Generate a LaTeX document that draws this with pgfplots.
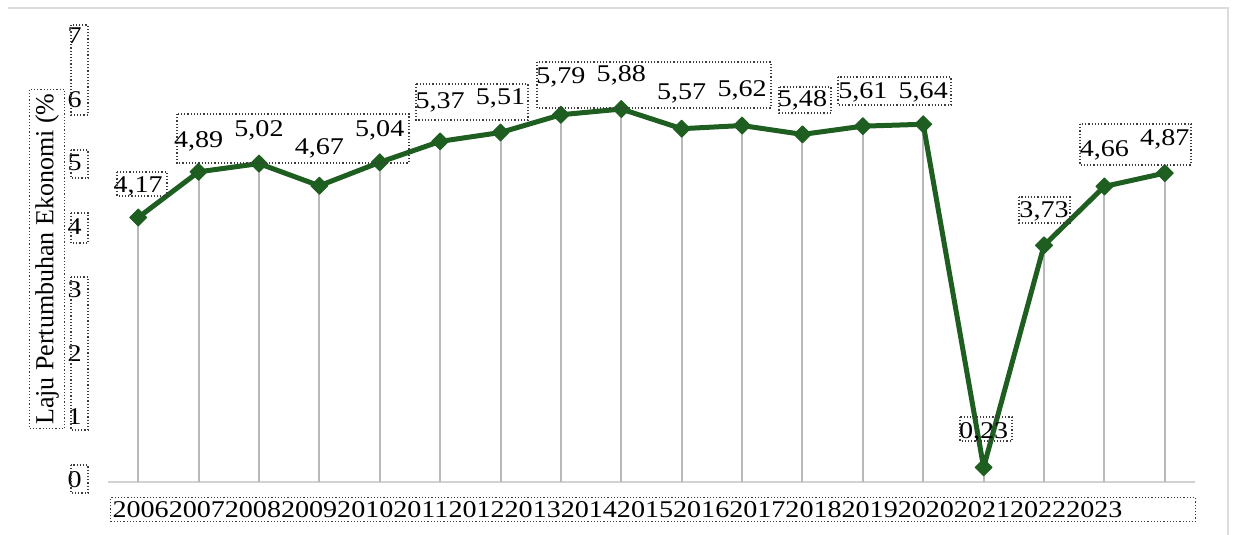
\documentclass[border=0pt]{standalone}
\usepackage{pgfplots}
\pgfplotsset{compat=1.18}
\usepackage{pgfplotstable}
\usepackage{fontspec}
\setmainfont{Liberation Serif}[FakeStretch=1.17]
\newfontfamily\ylfont{Liberation Serif}
\definecolor{lineg}{RGB}{30,94,32}
\definecolor{dropg}{RGB}{185,185,185}
\definecolor{axg}{RGB}{210,210,210}
\definecolor{frameg}{RGB}{220,220,220}
\definecolor{boxc}{RGB}{60,60,60}

\pgfplotstableread{
x y lbl dy
0 4.17 4,17 15.5
1 4.89 4,89 15
2 5.02 5,02 16.5
3 4.67 4,67 18.5
4 5.04 5,04 16
5 5.37 5,37 19.5
6 5.51 5,51 17
7 5.79 5,79 18.5
8 5.88 5,88 17
9 5.57 5,57 17.5
10 5.62 5,62 17.5
11 5.48 5,48 17
12 5.61 5,61 17
13 5.64 5,64 16
14 0.23 0,23 17.5
15 3.73 3,73 17
16 4.66 4,66 18
17 4.87 4,87 17
}\datatable

\begin{document}
\begin{tikzpicture}
\useasboundingbox (-54pt,-26.5pt) rectangle (562.5pt,241pt);
\draw[frameg, line width=1pt] (-50pt,237pt) -- (560pt,237pt) -- (560pt,-27pt);
\begin{axis}[
  at={(0pt,0pt)}, anchor=south west,
  scale only axis, width=543.5pt, height=222pt,
  xmin=-0.5, xmax=17.5, ymin=0, ymax=7,
  clip=false,
  axis x line=bottom, axis y line=left,
  x axis line style={-, draw=axg, line width=1pt},
  y axis line style={draw=none},
  xtick=\empty,
  ytick={0,1,2,3,4,5,6,7},
  ytick style={draw=none},
  /pgf/number format/assume math mode=true,
  yticklabel style={anchor=center, xshift=-14.5pt, yshift=1pt, font=\fontsize{12}{14}\selectfont},
  xlabel={200620072008200920102011201220132014201520162017201820192020202120222023},
  xlabel style={draw=boxc, densely dotted, line width=0.6pt, anchor=north west,
    at={(axis description cs:0,0)}, xshift=1pt, yshift=-7.5pt,
    text width=540.5pt, align=left, inner xsep=1pt, inner ysep=0pt,
    minimum height=12pt, font=\fontsize{12}{12}\selectfont},
  ylabel={Laju Pertumbuhan Ekonomi (\%},
  ylabel style={draw=boxc, densely dotted, line width=0.6pt, anchor=center,
    at={(axis description cs:-0.0561,0.502)},
    inner xsep=1.8pt, inner ysep=3pt, font=\ylfont\fontsize{13}{14}\selectfont},
]
\addplot[ycomb, dropg, line width=1pt, no markers] table[x=x, y=y]{\datatable};
\addplot[lineg, line width=2.5pt, line join=round,
  mark=square*, mark size=3pt,
  mark options={rotate=45, fill=lineg, draw=lineg, line width=0.5pt},
  point meta=explicit symbolic,
  visualization depends on={\thisrow{dy} \as \dy},
  nodes near coords,
  nodes near coords style={anchor=center, yshift=\dy, text=black, font=\fontsize{12}{14}\selectfont, inner sep=0pt},
] table[x=x, y=y, meta=lbl]{\datatable};
\end{axis}
% dotted boxes around tick labels
\begin{scope}[draw=boxc, densely dotted, line width=0.6pt]
\draw (-18.5pt,228.5pt) rectangle (-10pt,183.5pt);
\draw (-18.5pt,166pt) rectangle (-10pt,152pt);
\draw (-18.5pt,134.5pt) rectangle (-10pt,119.5pt);
\draw (-18.5pt,102.5pt) rectangle (-10pt,26pt);
\draw (-18.5pt,8.5pt) rectangle (-10pt,-5.5pt);
% dotted boxes around data labels
\draw (4.5pt,155pt) rectangle (29.5pt,143pt);
\draw (34.5pt,184pt) rectangle (150.5pt,159.5pt);
\draw (154pt,199pt) rectangle (210pt,181pt);
\draw (214.5pt,210pt) rectangle (331.5pt,187pt);
\draw (335.5pt,197.5pt) rectangle (361.5pt,184.5pt);
\draw (365pt,202.5pt) rectangle (421.5pt,188.5pt);
\draw (426pt,32.5pt) rectangle (452pt,20.5pt);
\draw (455.5pt,142.5pt) rectangle (481pt,129.5pt);
\draw (486pt,179pt) rectangle (541.5pt,158.5pt);
\end{scope}
\end{tikzpicture}
\end{document}
